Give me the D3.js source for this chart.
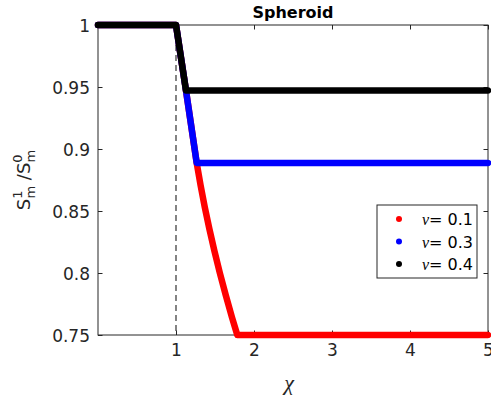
<!DOCTYPE html>
<html><head><meta charset="utf-8">
<script src="https://cdn.jsdelivr.net/npm/d3@7"></script>
<style>body{margin:0;background:#fff;} svg{display:block;}</style>
</head><body>
<svg id="chart" width="491" height="405"></svg>
<script>
// ---- data ----
const chi01 = [0, 1.0, 1.128, 1.2654, 1.3145, 1.3687, 1.4281, 1.4926, 1.5621, 1.6368, 1.7167, 1.7858, 5];
const s01   = [1, 1.0, 0.9472, 0.8887, 0.8710, 0.8532, 0.8355, 0.8177, 0.8000, 0.7823, 0.7645, 0.75, 0.75];
const chi03 = [0, 1.0, 1.128, 1.2654, 5];
const s03   = [1, 1.0, 0.9472, 0.8888, 0.8888];
const chi04 = [0, 1.0, 1.128, 5];
const s04   = [1, 1.0, 0.9472, 0.9472];
const seriesNames = ["0.1", "0.3", "0.4"];
const seriesColors = ["#ff0000", "#0000ff", "#000000"];
const xTicks = [1, 2, 3, 4, 5];
const yTicks = [0.75, 0.8, 0.85, 0.9, 0.95, 1];
const yTickLabels = ["0.75", "0.8", "0.85", "0.9", "0.95", "1"];
const refLine = 1;

const svg = d3.select("#chart");
const L = 98, R = 488, T = 25, B = 335;
const x = d3.scaleLinear().domain([0, 5]).range([L, R]);
const y = d3.scaleLinear().domain([0.75, 1]).range([B, T]);
const axisColor = "#262626";
const font = "'DejaVu Sans', sans-serif";

// dashed reference line
svg.append("line")
  .attr("x1", x(refLine)).attr("x2", x(refLine))
  .attr("y1", y(1)).attr("y2", y(0.75))
  .attr("stroke", "#333").attr("stroke-width", 1.2)
  .attr("stroke-dasharray", "6,4");

// axes box
svg.append("rect").attr("x", L).attr("y", T).attr("width", R - L).attr("height", B - T)
  .attr("fill", "none").attr("stroke", axisColor).attr("stroke-width", 1);

// ticks via d3 axes (inward)
const tl = 4.5;
const gxB = svg.append("g").attr("transform", `translate(0,${B})`)
  .call(d3.axisBottom(x).tickValues(xTicks).tickSizeInner(-tl).tickSizeOuter(0).tickPadding(9).tickFormat(d3.format("d")));
const gxT = svg.append("g").attr("transform", `translate(0,${T})`)
  .call(d3.axisTop(x).tickValues(xTicks).tickSizeInner(-tl).tickSizeOuter(0).tickFormat(""));
const gyL = svg.append("g").attr("transform", `translate(${L},0)`)
  .call(d3.axisLeft(y).tickValues(yTicks).tickSizeInner(-tl).tickSizeOuter(0).tickPadding(8)
    .tickFormat((d, i) => yTickLabels[i]));
const gyR = svg.append("g").attr("transform", `translate(${R},0)`)
  .call(d3.axisRight(y).tickValues(yTicks).tickSizeInner(-tl).tickSizeOuter(0).tickFormat(""));
[gxB, gxT, gyL, gyR].forEach(g => {
  g.select(".domain").remove();
  g.selectAll("line").attr("stroke", axisColor);
  g.selectAll("text").attr("fill", axisColor).attr("font-family", font).attr("font-size", 17);
});
gxB.selectAll("text").attr("dy", "0.71em");
gyL.selectAll("text").attr("dy", "0.36em");

// data lines
const line = d3.line().x(d => x(d[0])).y(d => y(d[1])).curve(d3.curveMonotoneY);
const data = [
  d3.zip(chi01, s01),
  d3.zip(chi03, s03),
  d3.zip(chi04, s04)
];
const lineL = d3.line().x(d => x(d[0])).y(d => y(d[1]));
data.forEach((d, i) => {
  svg.append("path").datum(d).attr("d", lineL)
    .attr("fill", "none").attr("stroke", seriesColors[i])
    .attr("stroke-width", 6.5).attr("stroke-linejoin", "round").attr("stroke-linecap", "round");
});

// title
svg.append("text").attr("x", (L + R) / 2).attr("y", 18).attr("text-anchor", "middle")
  .attr("font-family", font).attr("font-weight", "bold").attr("font-size", 16)
  .attr("fill", "#000").text("Spheroid");

// x label
svg.append("text").attr("x", 289).attr("y", 390).attr("text-anchor", "middle")
  .attr("font-family", "'Liberation Serif', serif").attr("font-style", "italic")
  .attr("font-size", 22).attr("fill", axisColor).text("χ");

// y label
const yl = svg.append("text").attr("transform", `translate(30,${(T + B) / 2}) rotate(-90)`)
  .attr("text-anchor", "middle").attr("font-family", font).attr("font-size", 18).attr("fill", axisColor);
yl.append("tspan").text("S");
yl.append("tspan").attr("font-size", 13).attr("dy", -8).text("1");
yl.append("tspan").attr("font-size", 13).attr("dx", -8).attr("dy", 13).text("m");
yl.append("tspan").attr("dy", -5).text(" /");
yl.append("tspan").text("S");
yl.append("tspan").attr("font-size", 13).attr("dy", -8).text("0");
yl.append("tspan").attr("font-size", 13).attr("dx", -8).attr("dy", 13).text("m");

// legend
const lg = svg.append("g");
lg.append("rect").attr("x", 377).attr("y", 205).attr("width", 100).attr("height", 73)
  .attr("fill", "#fff").attr("stroke", axisColor).attr("stroke-width", 1);
seriesNames.forEach((n, i) => {
  const cy = 219 + i * 22.5;
  lg.append("circle").attr("cx", 399).attr("cy", cy).attr("r", 3).attr("fill", seriesColors[i]);
  const t = lg.append("text").attr("x", 422).attr("y", cy + 6).attr("font-size", 16).attr("fill", "#000");
  t.append("tspan").attr("font-family", "'Liberation Serif', serif").attr("font-style", "italic").text("ν");
  t.append("tspan").attr("font-family", font).text("= " + n);
});
</script>
</body></html>
